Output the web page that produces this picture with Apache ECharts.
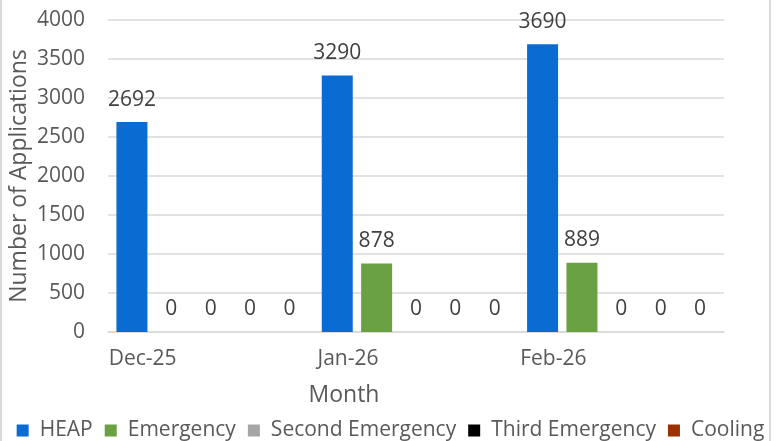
<!DOCTYPE html>
<html>
<head>
<meta charset="utf-8">
<style>
  html, body { margin: 0; padding: 0; background: #ffffff; }
  #frame {
    position: absolute; left: 0; top: 0; width: 767px; height: 441px;
    border-left: 2px solid #d9d9d9; border-right: 2px solid #d9d9d9;
  }
  #chart { position: absolute; left: 0; top: 0; width: 781px; height: 441px; }
</style>
<script src="https://cdn.jsdelivr.net/npm/echarts@6/dist/echarts.min.js"></script>
</head>
<body>
<div id="frame"></div>
<div id="chart"></div>
<script>
const months = ["Dec-25", "Jan-26", "Feb-26"];
const heap = [2692, 3290, 3690];
const emergency = [0, 878, 889];
const secondEmergency = [0, 0, 0];
const thirdEmergency = [0, 0, 0];
const cooling = [0, 0, 0];
const yTicks = { min: 0, max: 4000, interval: 500 };

const font = "Open Sans";

function barSeries(name, data, color) {
  return {
    name: name,
    type: "bar",
    data: data,
    barWidth: 31,
    barGap: "27%",
    itemStyle: { color: color },
    label: {
      show: true,
      position: "top",
      distance: 12,
      color: "#404040",
      fontFamily: font,
      fontSize: 21,
    },
  };
}

let chart = echarts.init(document.getElementById("chart"));
let option = {
  animation: false,
  textStyle: { fontFamily: font },
  grid: { left: 108, right: 57, top: 20, bottom: 109, outerBoundsMode: "none" },
  legend: {
    top: 415,
    left: "center",
    icon: "rect",
    itemWidth: 12,
    itemHeight: 12,
    itemGap: 12,
    textStyle: { color: "#595959", fontSize: 21, fontFamily: font, padding: [0, 0, 0, 6] },
  },
  xAxis: {
    type: "category",
    data: months,
    name: "Month",
    nameLocation: "middle",
    nameGap: 52,
    nameMoveOverlap: false,
    nameTextStyle: { color: "#595959", fontSize: 23, fontFamily: font, padding: [0, 144, 0, 0] },
    axisLine: { lineStyle: { color: "#d9d9d9", width: 1.5 } },
    axisTick: { show: false },
    axisLabel: {
      color: "#595959",
      fontSize: 21,
      fontFamily: font,
      margin: 17,
      padding: [0, 136, 0, 0],
    },
  },
  yAxis: {
    type: "value",
    min: yTicks.min,
    max: yTicks.max,
    interval: yTicks.interval,
    name: "Number of Applications",
    nameLocation: "middle",
    nameGap: 77,
    nameMoveOverlap: false,
    nameTextStyle: { color: "#595959", fontSize: 23, fontFamily: font },
    axisLine: { show: false },
    axisTick: { show: false },
    axisLabel: {
      color: "#595959",
      fontSize: 21,
      fontFamily: font,
      margin: 23,
      formatter: (v) => String(v),
    },
    splitLine: { lineStyle: { color: "#d9d9d9", width: 1.5 } },
  },
  series: [
    barSeries("HEAP", heap, "#0a6bd2"),
    barSeries("Emergency", emergency, "#6aa143"),
    barSeries("Second Emergency", secondEmergency, "#a5a5a5"),
    barSeries("Third Emergency", thirdEmergency, "#000000"),
    barSeries("Cooling", cooling, "#9c3000"),
  ],
};
chart.setOption(option);
</script>
</body>
</html>
